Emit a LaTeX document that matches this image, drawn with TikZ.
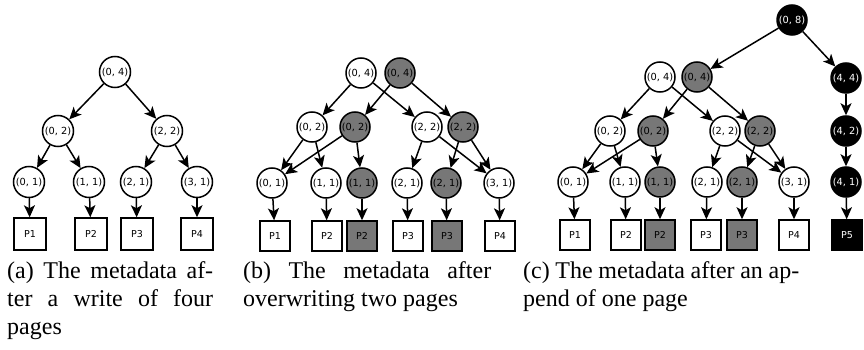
\documentclass[tikz,border=0pt]{standalone}
\usepackage{fontspec}
\setmainfont{Liberation Serif}
\newfontfamily\nodefont{DejaVu Sans}
\usetikzlibrary{arrows.meta}
\definecolor{newgray}{HTML}{777777}
\tikzset{
  every picture/.style={x=1pt,y=-1pt},
  cnode/.style={circle,draw,line width=1.5pt,inner sep=0pt,minimum size=30pt,font=\nodefont\fontsize{9.8}{10}\selectfont},
  wnode/.style={cnode,fill=white},
  gnode/.style={cnode,fill=newgray},
  bnode/.style={cnode,fill=black,text=white},
  pbox/.style={rectangle,draw,line width=1.5pt,inner sep=0pt,minimum size=30pt,font=\nodefont\fontsize{9.5}{10}\selectfont},
  wbox/.style={pbox,fill=white},
  gbox/.style={pbox,fill=newgray},
  bbox/.style={pbox,fill=black,text=white},
  edge/.style={line width=1.5pt,-{Stealth[length=12pt,width=11pt,inset=3pt]}},
  captext/.style={font=\fontsize{24}{28}\selectfont,inner sep=0pt,anchor=north west,align=left}
}
\begin{document}
\begin{tikzpicture}
\useasboundingbox (0,0) rectangle (864,350);
% ---------- panel (a)
\node[wnode,minimum size=31pt] (a04) at (115,72) {(0, 4)};
\node[wnode,minimum size=31pt] (a02) at (58,131) {(0, 2)};
\node[wnode,minimum size=31pt] (a22) at (167,131) {(2, 2)};
\node[wnode,minimum size=31pt] (a01) at (29,182) {(0, 1)};
\node[wnode,minimum size=31pt] (a11) at (89,182) {(1, 1)};
\node[wnode,minimum size=31pt] (a21) at (136,182) {(2, 1)};
\node[wnode,minimum size=31pt] (a31) at (197,182) {(3, 1)};
\node[wbox,minimum size=32pt] (ap1) at (30,234) {P1};
\node[wbox,minimum size=32pt] (ap2) at (91,234) {P2};
\node[wbox,minimum size=32pt] (ap3) at (137,234) {P3};
\node[wbox,minimum size=32pt] (ap4) at (197,234) {P4};
\draw[edge] (a04) -- (a02);
\draw[edge] (a04) -- (a22);
\draw[edge] (a02) -- (a01);
\draw[edge] (a02) -- (a11);
\draw[edge] (a22) -- (a21);
\draw[edge] (a22) -- (a31);
\draw[edge] (a01) -- (ap1);
\draw[edge] (a11) -- (ap2);
\draw[edge] (a21) -- (ap3);
\draw[edge] (a31) -- (ap4);
% ---------- panel (b)
\node[wnode] (b04w) at (361,73) {(0, 4)};
\node[gnode] (b04g) at (400,73) {(0, 4)};
\node[wnode] (b02w) at (312,127) {(0, 2)};
\node[gnode] (b02g) at (355,127) {(0, 2)};
\node[wnode] (b22w) at (427,127) {(2, 2)};
\node[gnode] (b22g) at (463,127) {(2, 2)};
\node[wnode] (b01) at (272,183) {(0, 1)};
\node[wnode] (b11w) at (326,183) {(1, 1)};
\node[gnode] (b11g) at (362,183) {(1, 1)};
\node[wnode] (b21w) at (407,183) {(2, 1)};
\node[gnode] (b21g) at (446,183) {(2, 1)};
\node[wnode] (b31) at (499,183) {(3, 1)};
\node[wbox] (bp1) at (275,236) {P1};
\node[wbox] (bp2w) at (327,236) {P2};
\node[gbox] (bp2g) at (362,236) {P2};
\node[wbox] (bp3w) at (408,236) {P3};
\node[gbox] (bp3g) at (447,236) {P3};
\node[wbox] (bp4) at (500,236) {P4};
\draw[edge] (b04w) -- (b02w);
\draw[edge] (b04w) -- (b22w);
\draw[edge] (b04g) -- (b02g);
\draw[edge] (b04g) -- (b22g);
\draw[edge] (b02w) -- (b01);
\draw[edge] (b02w) -- (b11w);
\draw[edge] (b02g) -- (b01);
\draw[edge] (b02g) -- (b11g);
\draw[edge] (b22w) -- (b21w);
\draw[edge] (b22w) -- (b31);
\draw[edge] (b22g) -- (b21g);
\draw[edge] (b22g) -- (b31);
\draw[edge] (b01) -- (bp1);
\draw[edge] (b11w) -- (bp2w);
\draw[edge] (b11g) -- (bp2g);
\draw[edge] (b21w) -- (bp3w);
\draw[edge] (b21g) -- (bp3g);
\draw[edge] (b31) -- (bp4);
% ---------- panel (c)
\node[bnode] (c08) at (792,20) {(0, 8)};
\node[wnode] (c04w) at (660,77) {(0, 4)};
\node[gnode] (c04g) at (697,77) {(0, 4)};
\node[bnode] (c44) at (846,78) {(4, 4)};
\node[wnode] (c02w) at (610,131) {(0, 2)};
\node[gnode] (c02g) at (653,131) {(0, 2)};
\node[wnode] (c22w) at (725,131) {(2, 2)};
\node[gnode] (c22g) at (760,131) {(2, 2)};
\node[bnode] (c42) at (846,131) {(4, 2)};
\node[wnode] (c01) at (573,182) {(0, 1)};
\node[wnode] (c11w) at (625,182) {(1, 1)};
\node[gnode] (c11g) at (660,182) {(1, 1)};
\node[wnode] (c21w) at (707,182) {(2, 1)};
\node[gnode] (c21g) at (742,182) {(2, 1)};
\node[wnode] (c31) at (794,182) {(3, 1)};
\node[bnode] (c41) at (846,182) {(4, 1)};
\node[wbox] (cp1) at (575,235) {P1};
\node[wbox] (cp2w) at (626,235) {P2};
\node[gbox] (cp2g) at (660,235) {P2};
\node[wbox] (cp3w) at (706,235) {P3};
\node[gbox] (cp3g) at (742,235) {P3};
\node[wbox] (cp4) at (794,235) {P4};
\node[bbox] (cp5) at (847,235) {P5};
\draw[edge] (c08) -- (c04g);
\draw[edge] (c08) -- (c44);
\draw[edge] (c44) -- (c42);
\draw[edge] (c42) -- (c41);
\draw[edge] (c41) -- (cp5);
\draw[edge] (c04w) -- (c02w);
\draw[edge] (c04w) -- (c22w);
\draw[edge] (c04g) -- (c02g);
\draw[edge] (c04g) -- (c22g);
\draw[edge] (c02w) -- (c01);
\draw[edge] (c02w) -- (c11w);
\draw[edge] (c02g) -- (c01);
\draw[edge] (c02g) -- (c11g);
\draw[edge] (c22w) -- (c21w);
\draw[edge] (c22w) -- (c31);
\draw[edge] (c22g) -- (c21g);
\draw[edge] (c22g) -- (c31);
\draw[edge] (c01) -- (cp1);
\draw[edge] (c11w) -- (cp2w);
\draw[edge] (c11g) -- (cp2g);
\draw[edge] (c21w) -- (cp3w);
\draw[edge] (c21g) -- (cp3g);
\draw[edge] (c31) -- (cp4);
% ---------- captions
\node[captext] (capa) at (7,261) {\makebox[206pt][s]{(a) The metadata af-}\\\makebox[206pt][s]{ter a write of four}\\pages};
\node[captext] (capb) at (243,261) {\makebox[248pt][s]{(b) The metadata after}\\overwriting two pages};
\node[captext] (capc) at (523,261) {\makebox[276pt][s]{(c) The metadata after an ap-}\\pend of one page};
\end{tikzpicture}
\end{document}
